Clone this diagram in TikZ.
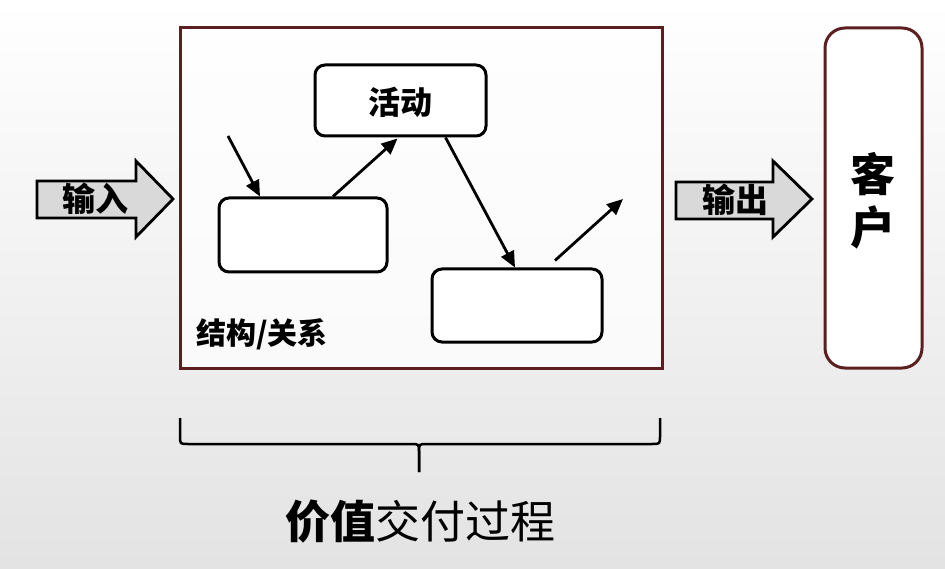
\documentclass[tikz,border=0pt]{standalone}
\usepackage{fontspec}
\newfontfamily\cjk{Noto Sans CJK SC}
\usetikzlibrary{arrows.meta,calc}
\definecolor{frame}{HTML}{5C1F1F}
\definecolor{arrfill}{HTML}{D9D9D9}
\begin{document}
\begin{tikzpicture}[x=1pt,y=-1pt,
  rbox/.style={draw=black,line width=3pt,fill=white,rounded corners=10pt,inner sep=0pt},
  flow/.style={draw=black,line width=2.8pt,-{Triangle[length=16pt,width=14pt]}},
  fat/.style={draw=black,line width=2.8pt,fill=arrfill,line join=miter},
  lbl/.style={font=\cjk\bfseries,inner sep=0pt}]
\useasboundingbox (0,0) rectangle (945,569);
\shade[top color=white,bottom color=gray!22] (0,0) rectangle (945,569);
% main frame
\node[draw=frame,line width=3pt,fill=white,fill opacity=0.75,draw opacity=1,minimum width=482pt,minimum height=340pt,inner sep=0pt] (frame) at (421,198) {};
% customer
\node[draw=frame,line width=3pt,fill=white,rounded corners=20pt,minimum width=97pt,minimum height=340pt,inner sep=0pt] (cust) at (873.5,198) {};
\node[lbl,font=\cjk\bfseries\fontsize{45}{53}\selectfont,align=center] (custt) at (873,201) {客\\户};
% inner boxes
\node[rbox,minimum width=171pt,minimum height=71pt] (act) at (400.5,100.5) {};
\node[lbl,font=\cjk\bfseries\fontsize{32}{36}\selectfont] (actt) at (400,102) {活动};
\node[rbox,minimum width=168pt,minimum height=74pt] (ba) at (303,235) {};
\node[rbox,minimum width=170pt,minimum height=73pt] (bb) at (517,305.5) {};
\node[lbl,font=\cjk\bfseries\fontsize{30}{34}\selectfont,anchor=west] (rel) at (196,334) {结构/关系};
% inner arrows
\coordinate (in1) at (228,136);
\coordinate (out1) at (623,199);
\draw[flow] (in1) -- ([xshift=-43pt]ba.north);
\draw[flow] ([xshift=30pt]ba.north) -- ([xshift=-3pt,yshift=-1pt]act.south);
\draw[flow] ([xshift=45pt]act.south) -- ([xshift=-2pt]bb.north);
\draw[flow] ([xshift=38pt,yshift=7pt]bb.north) -- (out1);
% input / output fat arrows
\path[fat] (37,181) -- (136,181) -- (136,161) -- (173,199) -- (136,237) -- (136,218) -- (37,218) -- cycle;
\node[lbl,font=\cjk\bfseries\fontsize{33}{36}\selectfont] (inp) at (95,199) {输入};
\path[fat] (676,182) -- (773,182) -- (773,161) -- (812,199) -- (773,237) -- (773,219) -- (676,219) -- cycle;
\node[lbl,font=\cjk\bfseries\fontsize{33}{36}\selectfont] (outp) at (735,200) {输出};
% brace
\coordinate (bl) at (180,418);
\coordinate (br) at (660,418);
\coordinate (bm) at (419,472);
\draw[line width=2.5pt,black] (bl) -- (180,436) .. controls (180,444) .. (188,444) -- (411,444) .. controls (419,444) .. (419,452) -- (bm);
\draw[line width=2.5pt,black] (bm) -- (419,452) .. controls (419,444) .. (427,444) -- (652,444) .. controls (660,444) .. (660,436) -- (br);
% caption
\node[inner sep=0pt,font=\cjk\fontsize{45}{50}\selectfont] (cap) at (420,522) {{\bfseries 价值}交付过程};
\end{tikzpicture}
\end{document}
